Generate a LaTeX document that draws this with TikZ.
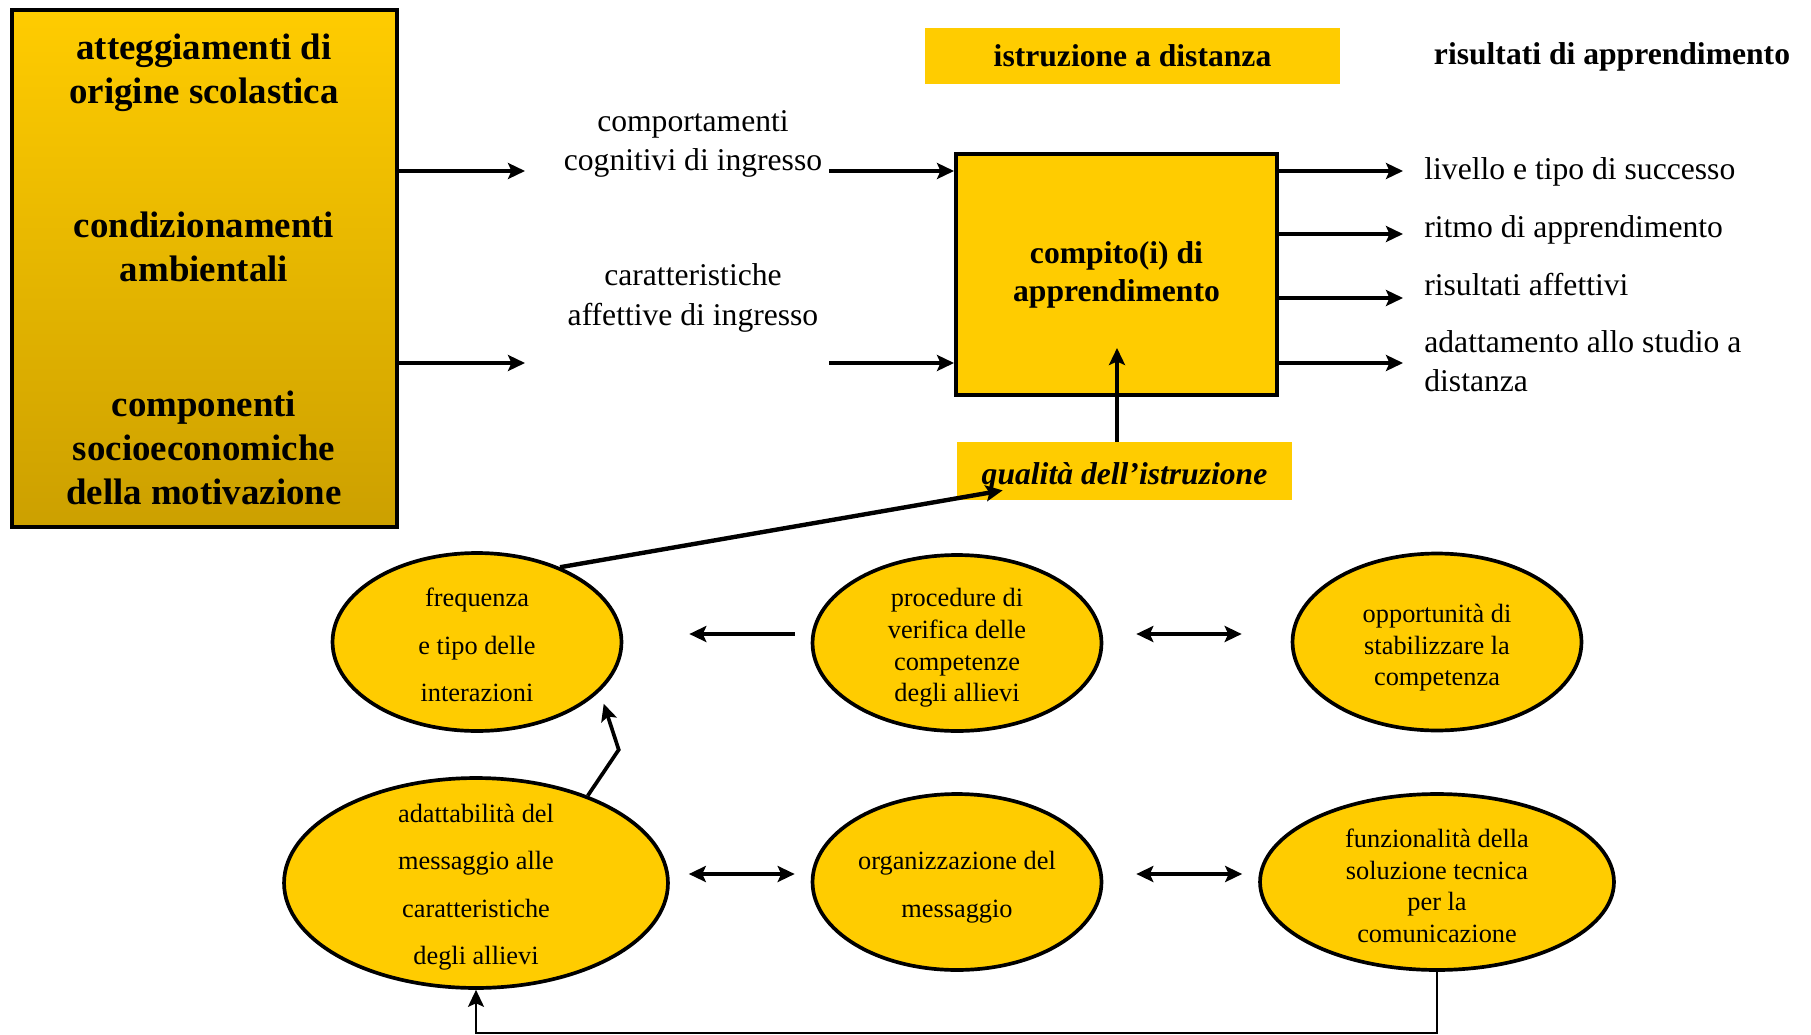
\documentclass[tikz,border=0pt]{standalone}
\usepackage{fontspec}
\setmainfont{Liberation Serif}
\usetikzlibrary{shapes.geometric,arrows.meta,calc}

\definecolor{oro}{RGB}{255,204,0}
\definecolor{orocupo}{RGB}{204,160,0}

\tikzset{
  punta/.tip={Stealth[length=0.34cm, width=0.32cm, inset=0.07cm]},
  freccia/.style={-punta, line width=2.5pt},
  doppia/.style={punta-punta, line width=2.5pt},
  filo/.style={-punta, line width=2.1pt},
  ritorno/.style={-punta, line width=1.4pt},
  grosso/.style={align=center, font=\fontsize{21}{25}\selectfont\bfseries},
  titolo/.style={align=center, font=\fontsize{18}{21.6}\selectfont\bfseries},
  testo/.style={align=center, font=\fontsize{18}{22.5}\selectfont},
  ovale/.style={ellipse, draw, fill=oro, line width=2.1pt, inner sep=0pt},
  dentro/.style={align=center, font=\fontsize{15}{18}\selectfont},
  largo/.style={align=center, font=\fontsize{15}{27}\selectfont},
}

\begin{document}
\begin{tikzpicture}[x=0.02cm, y=-0.02cm]
  \useasboundingbox (0,0) rectangle (1811,1034);

  % fattori di ingresso
  \node [draw, line width=2.3pt, top color=oro, bottom color=orocupo,
    minimum width=7.7cm, minimum height=10.34cm] (fattori) at (204.5,268.5) {};
  \node [grosso] (atteg) at (204,73) {atteggiamenti di\\origine scolastica};
  \node [grosso] (condiz) at (204,247) {condizionamenti\\ambientali};
  \node [grosso] (compon) at (204,448) {componenti\\socioeconomiche\\della motivazione};

  \node [testo] (cognit) at (693,144) {comportamenti\\cognitivi di ingresso};
  \node [testo] (affett) at (693,298) {caratteristiche\\affettive di ingresso};

  % istruzione a distanza
  \node [titolo, fill=oro, minimum width=8.3cm, minimum height=1.12cm]
    (istruz) at (1132.5,56) {istruzione a distanza};
  \node [titolo] (risult) at (1612,57) {risultati di apprendimento};
  \node [titolo, draw, fill=oro, line width=2.3pt,
    minimum width=6.42cm, minimum height=4.82cm] (compito) at (1116.5,274.5)
    {compito(i) di\\apprendimento};
  \node [fill=oro, minimum width=6.7cm, minimum height=1.16cm] (qualita) at (1124.5,471) {};
  \node [titolo, font=\fontsize{18}{21.6}\selectfont\bfseries\itshape]
    (tqualita) at (1124.5,477) {qualità dell’istruzione};

  % risultati
  \node [testo, anchor=west, inner sep=0pt] (livello) at (1424,172) {livello e tipo di successo};
  \node [testo, anchor=west, inner sep=0pt] (ritmo) at (1424,230) {ritmo di apprendimento};
  \node [testo, anchor=west, inner sep=0pt] (raffett) at (1424,285) {risultati affettivi};
  \node [testo, anchor=west, align=left, inner sep=0pt] (adattam) at (1424,361)
    {adattamento allo studio a\\distanza};

  % ovali
  \node [ovale, minimum width=5.78cm, minimum height=3.56cm] (freq) at (477,642) {};
  \node [largo] (tfreq) at (477,645) {frequenza\\e tipo delle\\interazioni};
  \node [ovale, minimum width=5.78cm, minimum height=3.52cm] (verif) at (957,643) {};
  \node [dentro] (tverif) at (957,648)
    {procedure di\\verifica delle\\competenze\\degli allievi};
  \node [ovale, minimum width=5.78cm, minimum height=3.54cm] (stabil) at (1437,642) {};
  \node [dentro] (tstabil) at (1437,648) {opportunità di\\stabilizzare la\\competenza};
  \node [ovale, minimum width=7.68cm, minimum height=4.2cm] (adatt) at (476,883) {};
  \node [largo] (tadatt) at (476,887)
    {adattabilità del\\messaggio alle\\caratteristiche\\degli allievi};
  \node [ovale, minimum width=5.78cm, minimum height=3.52cm] (organ) at (957,882) {};
  \node [largo] (torgan) at (957,887) {organizzazione del\\messaggio};
  \node [ovale, minimum width=7.08cm, minimum height=3.52cm] (funz) at (1437,882) {};
  \node [dentro] (tfunz) at (1437,886)
    {funzionalità della\\soluzione tecnica\\per la\\comunicazione};

  % frecce in ingresso
  \coordinate (cog1) at (525,171);
  \coordinate (cog2) at (829,171);
  \coordinate (aff1) at (525,363);
  \coordinate (aff2) at (829,363);
  \draw [freccia] (fattori.east |- cog1) -- (cog1);
  \draw [freccia] (fattori.east |- aff1) -- (aff1);
  \draw [freccia] (cog2) -- (compito.west |- cog2);
  \draw [freccia] (aff2) -- (compito.west |- aff2);

  % frecce in uscita
  \coordinate (out1) at (1403,171);
  \coordinate (out2) at (1403,234);
  \coordinate (out3) at (1403,298);
  \coordinate (out4) at (1403,363);
  \draw [freccia] (compito.east |- out1) -- (out1);
  \draw [freccia] (compito.east |- out2) -- (out2);
  \draw [freccia] (compito.east |- out3) -- (out3);
  \draw [freccia] (compito.east |- out4) -- (out4);

  \coordinate (qtip) at (1117,348);
  \draw [filo] (qualita.north -| qtip) -- (qtip);
  \draw [freccia] (freq.42) -- ($(qualita.south west)+(46,-10)$);

  % legami tra gli ovali
  \draw [freccia] ($(verif.west)+(-16,-9)$) -- ($(freq.east)+(66,-8)$);
  \draw [doppia] ($(verif.east)+(33,-9)$) -- ($(stabil.west)+(-49,-8)$);
  \draw [doppia] ($(adatt.east)+(19,-9)$) -- ($(organ.west)+(-16,-8)$);
  \draw [doppia] ($(organ.east)+(33,-8)$) -- ($(funz.west)+(-16,-8)$);
  \draw [filo] (adatt.38) -- ++(31,-46) -- ++(-15,-46);
  \draw [ritorno] (funz.south) -- ++(0,61) -| (adatt.south);
\end{tikzpicture}
\end{document}
